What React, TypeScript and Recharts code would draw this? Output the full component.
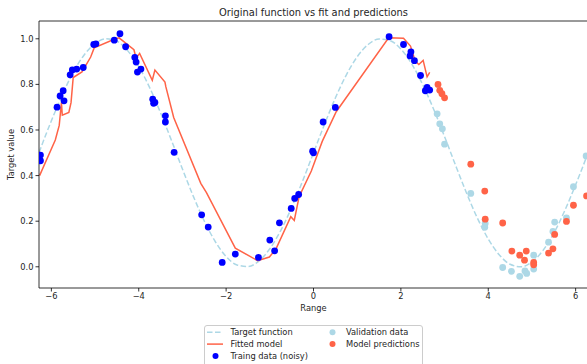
import React from 'react';
import { ComposedChart, Line, Scatter, XAxis, YAxis, ReferenceLine } from 'recharts';

// target function (dashed)
const targetX = [-6.28, -6.25, -6, -5.75, -5.5, -5.25, -5, -4.75, -4.5, -4.25, -4, -3.75, -3.5, -3.25, -3, -2.75, -2.5, -2.25, -2, -1.75, -1.5, -1.25, -1, -0.75, -0.5, -0.25, 0, 0.25, 0.5, 0.75, 1, 1.25, 1.5, 1.75, 2, 2.25, 2.5, 2.75, 3, 3.25, 3.5, 3.75, 4, 4.25, 4.5, 4.75, 5, 5.25, 5.5, 5.75, 6, 6.25, 6.28];
const targetY = [0.501, 0.517, 0.64, 0.754, 0.853, 0.929, 0.979, 1.0, 0.989, 0.947, 0.878, 0.786, 0.675, 0.554, 0.429, 0.309, 0.201, 0.111, 0.045, 0.008, 0.001, 0.025, 0.079, 0.159, 0.26, 0.376, 0.5, 0.624, 0.74, 0.841, 0.921, 0.975, 0.999, 0.992, 0.955, 0.889, 0.799, 0.691, 0.571, 0.446, 0.325, 0.214, 0.122, 0.053, 0.011, 0.0, 0.021, 0.071, 0.147, 0.246, 0.36, 0.483, 0.499];

// fitted model polyline
const fitX = [-6.27, -5.91, -5.82, -5.77, -5.75, -5.6, -5.55, -5.5, -5.3, -5.1, -5.02, -4.56, -4.45, -4.11, -4.06, -3.98, -3.69, -3.63, -3.4, -3.38, -3.2, -2.58, -2.45, -1.79, -1.28, -1.01, -0.86, -0.52, -0.44, -0.33, -0.05, 0.2, 0.52, 1.72, 2.06, 2.22, 2.33, 2.41, 2.51, 2.6, 2.66];
const fitY = [0.4, 0.556, 0.62, 0.72, 0.665, 0.677, 0.72, 0.83, 0.855, 0.92, 0.96, 0.998, 1.004, 0.952, 0.915, 0.936, 0.818, 0.863, 0.81, 0.79, 0.655, 0.366, 0.325, 0.082, 0.027, 0.043, 0.078, 0.22, 0.203, 0.307, 0.42, 0.55, 0.68, 1.004, 1.002, 0.968, 0.902, 0.887, 0.905, 0.833, 0.853];

// training data (noisy)
const trainX = [-6.25, -6.25, -5.87, -5.8, -5.73, -5.71, -5.57, -5.52, -5.42, -5.27, -5.03, -4.98, -4.56, -4.43, -4.3, -4.09, -4.06, -4.03, -3.95, -3.68, -3.66, -3.63, -3.39, -3.39, -3.19, -2.56, -2.41, -2.09, -1.79, -1.26, -1.0, -0.89, -0.78, -0.51, -0.43, -0.34, -0.02, 0.0, 0.22, 0.5, 1.73, 2.06, 2.23, 2.21, 2.31, 2.45, 2.6, 2.56, 2.66];
const trainY = [0.49, 0.465, 0.7, 0.749, 0.772, 0.728, 0.842, 0.863, 0.867, 0.874, 0.975, 0.978, 0.994, 1.022, 0.965, 0.918, 0.898, 0.854, 0.867, 0.735, 0.717, 0.721, 0.662, 0.635, 0.502, 0.228, 0.174, 0.019, 0.056, 0.041, 0.117, 0.07, 0.193, 0.256, 0.3, 0.317, 0.507, 0.5, 0.635, 0.699, 1.009, 0.975, 0.943, 0.925, 0.904, 0.839, 0.787, 0.772, 0.775];

// validation data
const valX = [2.83, 2.89, 2.95, 3.0, 3.6, 3.93, 3.92, 4.33, 4.53, 4.72, 4.84, 4.88, 5.04, 5.04, 5.38, 5.48, 5.52, 5.79, 5.95, 6.24];
const valY = [0.671, 0.627, 0.605, 0.538, 0.322, 0.19, 0.173, -0.003, -0.02, -0.042, -0.018, -0.029, 0.051, -0.01, 0.108, 0.155, 0.196, 0.214, 0.351, 0.486];

// model predictions
const predX = [2.85, 2.89, 2.94, 3.0, 3.6, 3.92, 3.93, 4.33, 4.54, 4.72, 4.83, 4.87, 5.04, 5.04, 5.38, 5.48, 5.52, 5.79, 5.95, 6.25];
const predY = [0.8, 0.774, 0.759, 0.741, 0.45, 0.332, 0.209, 0.192, 0.069, 0.051, 0.029, 0.069, 0.019, 0.009, 0.06, 0.079, 0.142, 0.199, 0.27, 0.311];

const xTicks = [-6, -4, -2, 0, 2, 4, 6];
const yTicks = [0, 0.2, 0.4, 0.6, 0.8, 1.0];
const yMax = 1.078;

const toPoints = (xs: number[], ys: number[]) => xs.map((x, i) => ({ x, y: ys[i] }));

const FONT = '"DejaVu Sans", sans-serif';
const INK = '#262626';
const BLUE = '#0000ff';
const LIGHT = '#add8e6';
const TOMATO = '#ff6347';

const dot = (color: string) => (props: any) =>
  <circle cx={props.cx} cy={props.cy} r={3.4} fill={color} />;

const fmt = (v: number, digits: number) => v.toFixed(digits).replace('-', '\u2212');

const legendItems = [
  { label: 'Target function', kind: 'dash', color: LIGHT, col: 0, row: 0 },
  { label: 'Fitted model', kind: 'line', color: TOMATO, col: 0, row: 1 },
  { label: 'Traing data (noisy)', kind: 'dot', color: BLUE, col: 0, row: 2 },
  { label: 'Validation data', kind: 'dot', color: LIGHT, col: 1, row: 0 },
  { label: 'Model predictions', kind: 'dot', color: TOMATO, col: 1, row: 1 },
];

const App: React.FC = () => {
  const target = toPoints(targetX, targetY);
  const fit = toPoints(fitX, fitY);
  const train = toPoints(trainX, trainY);
  const val = toPoints(valX, valY);
  const pred = toPoints(predX, predY);

  const axisLine = { stroke: '#000', strokeWidth: 0.8 };
  const tick = { fill: INK, fontSize: 8.3, fontFamily: FONT };

  return (
    <div style={{ position: 'absolute', left: 0, top: 0, width: 587, height: 364, overflow: 'hidden', background: '#fff' }}>
      <ComposedChart width={590} height={364} margin={{ top: 21, right: 2, left: 0, bottom: 52 }}>
        <XAxis
          dataKey="x"
          type="number"
          domain={[-6.283, 6.283]}
          ticks={xTicks}
          allowDataOverflow
          height={24}
          axisLine={axisLine}
          tickLine={axisLine}
          tickSize={3.5}
          tickMargin={2}
          tick={tick}
          tickFormatter={(v: number) => fmt(v, 0)}
        />
        <YAxis
          dataKey="y"
          type="number"
          domain={[-0.093, yMax]}
          ticks={yTicks}
          allowDataOverflow
          width={39}
          axisLine={axisLine}
          tickLine={axisLine}
          tickSize={3.5}
          tickMargin={2}
          tick={tick}
          tickFormatter={(v: number) => fmt(v, 1)}
        />
        {/* top spine */}
        <ReferenceLine y={yMax} stroke="#000" strokeWidth={0.8} ifOverflow="visible" />
        <Line data={target} dataKey="y" type="monotone" stroke={LIGHT} strokeWidth={1.5} strokeDasharray="5.5 2.5" dot={false} activeDot={false} isAnimationActive={false} />
        <Line data={fit} dataKey="y" type="linear" stroke={TOMATO} strokeWidth={1.5} dot={false} activeDot={false} isAnimationActive={false} />
        <Scatter data={train} dataKey="y" fill={BLUE} shape={dot(BLUE)} isAnimationActive={false} />
        <Scatter data={val} dataKey="y" fill={LIGHT} shape={dot(LIGHT)} isAnimationActive={false} />
        <Scatter data={pred} dataKey="y" fill={TOMATO} shape={dot(TOMATO)} isAnimationActive={false} />
      </ComposedChart>

      <svg width={587} height={364} style={{ position: 'absolute', left: 0, top: 0, pointerEvents: 'none' }} fontFamily={FONT}>
        <text x={313.5} y={16} textAnchor="middle" fontSize={9.9} fill={INK}>Original function vs fit and predictions</text>
        <text x={313.5} y={311} textAnchor="middle" fontSize={8.3} fill={INK}>Range</text>
        <text x={14} y={154.5} textAnchor="middle" fontSize={8.3} fill={INK} transform="rotate(-90 14 154.5)">Target value</text>

        <rect x={204.5} y={325.5} width={218} height={50} rx={2.5} fill="#fff" fillOpacity={0.8} stroke="#cccccc" />
        {legendItems.map((it) => {
          const hx = it.col === 0 ? 207 : 324;
          const tx = it.col === 0 ? 230.5 : 346;
          const cy = 332.3 + it.row * 11.8;
          return (
            <g key={it.label}>
              {it.kind === 'dash' && <line x1={hx} x2={hx + 16} y1={cy} y2={cy} stroke={it.color} strokeWidth={1.5} strokeDasharray="5.5 2.5" />}
              {it.kind === 'line' && <line x1={hx} x2={hx + 16} y1={cy} y2={cy} stroke={it.color} strokeWidth={1.5} />}
              {it.kind === 'dot' && <circle cx={hx + 8.5} cy={cy} r={3} fill={it.color} />}
              <text x={tx} y={cy + 3} fontSize={8.3} fill={INK}>{it.label}</text>
            </g>
          );
        })}
      </svg>
    </div>
  );
};

export default App;
